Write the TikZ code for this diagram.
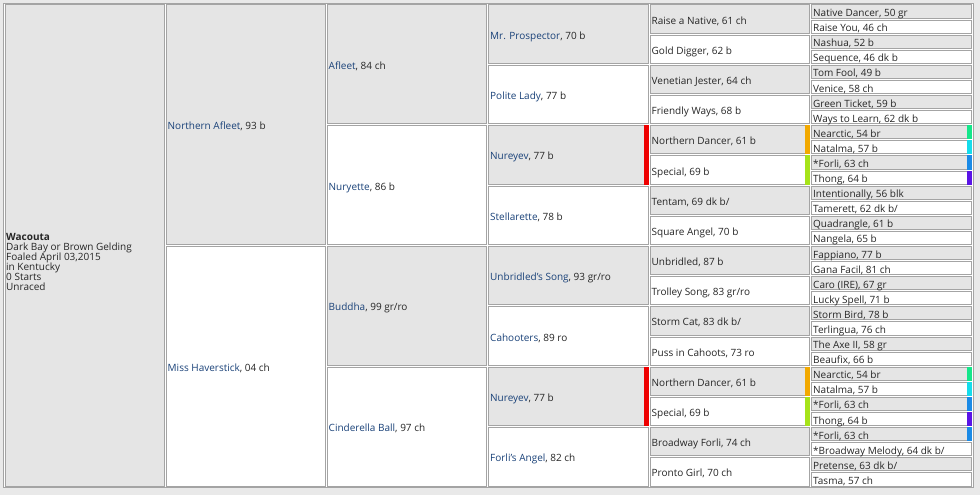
\documentclass[tikz,border=0pt]{standalone}
\usepackage{fontspec}
\setmainfont{Open Sans}
\definecolor{pagebg}{HTML}{E9E9E9}
\definecolor{cellgray}{HTML}{E5E5E5}
\definecolor{cellline}{HTML}{A4A4A4}
\definecolor{linkblue}{HTML}{1A4279}
\definecolor{txt}{HTML}{262626}
\definecolor{barred}{HTML}{EE0000}
\definecolor{barorange}{HTML}{F2A900}
\definecolor{barlime}{HTML}{A6E31A}
\definecolor{bargreen}{HTML}{14E68A}
\definecolor{barcyan}{HTML}{14DCEB}
\definecolor{barblue}{HTML}{1A8AE6}
\definecolor{barviolet}{HTML}{5A14E6}
\newcommand\lk[1]{\textcolor{linkblue}{#1}}
\newcommand\pcell[7]{%
  \pgfmathsetmacro\pya{4+#4*15.09375+1}%
  \pgfmathsetmacro\pyb{4+(#4+#5)*15.09375-1}%
  \pgfmathsetmacro\pym{(\pya+\pyb)/2+5.0}%
  \draw[cellbox,fill=#6] (#2+1,\pya) rectangle (#3-1,\pyb);
  \node[celltext] (#1) at (#2+2.5,\pym) {#7};
}
\newcommand\pbar[4]{%
  \pgfmathsetmacro\pya{4+#2*15.09375+0.5}%
  \pgfmathsetmacro\pyb{4+(#2+#3)*15.09375-0.5}%
  \fill[#4] (#1-5.5,\pya) rectangle (#1-0.5,\pyb);
}
\begin{document}
\begin{tikzpicture}[x=1pt,y=-1pt,
  cellbox/.style={draw=cellline,line width=1pt},
  celltext/.style={anchor=base west,inner sep=0pt,text=txt,font=\fontsize{10}{10}\selectfont}]
\useasboundingbox (0,0) rectangle (980,495);
\fill[pagebg] (0,0) rectangle (980,495);
\filldraw[fill=white,draw=cellline,line width=1pt] (3,3.5) rectangle (973.2,487.5);
% generation 0
\pcell{wac}{4}{165}{0}{32}{cellgray}{}
\node[celltext] (wacouta) at (6,240) {\parbox[t]{155pt}{\fontsize{10}{10}\selectfont\raggedright
  \textbf{Wacouta}\\Dark Bay or Brown Gelding\\Foaled April 03,2015\\in Kentucky\\0 Starts\\Unraced}};
% generation 1
\pcell{s}{165}{326}{0}{16}{cellgray}{\lk{Northern Afleet}, 93 b}
\pcell{d}{165}{326}{16}{16}{white}{\lk{Miss Haverstick}, 04 ch}
% generation 2
\pcell{ss}{326}{487.5}{0}{8}{cellgray}{\lk{Afleet}, 84 ch}
\pcell{sd}{326}{487.5}{8}{8}{white}{\lk{Nuryette}, 86 b}
\pcell{ds}{326}{487.5}{16}{8}{cellgray}{\lk{Buddha}, 99 gr/ro}
\pcell{dd}{326}{487.5}{24}{8}{white}{\lk{Cinderella Ball}, 97 ch}
% generation 3
\pcell{sss}{487.5}{649}{0}{4}{cellgray}{\lk{Mr. Prospector}, 70 b}
\pcell{ssd}{487.5}{649}{4}{4}{white}{\lk{Polite Lady}, 77 b}
\pcell{sds}{487.5}{649}{8}{4}{cellgray}{\lk{Nureyev}, 77 b}
\pcell{sdd}{487.5}{649}{12}{4}{white}{\lk{Stellarette}, 78 b}
\pcell{dss}{487.5}{649}{16}{4}{cellgray}{\lk{Unbridled's Song}, 93 gr/ro}
\pcell{dsd}{487.5}{649}{20}{4}{white}{\lk{Cahooters}, 89 ro}
\pcell{dds}{487.5}{649}{24}{4}{cellgray}{\lk{Nureyev}, 77 b}
\pcell{ddd}{487.5}{649}{28}{4}{white}{\lk{Forli's Angel}, 82 ch}
% generation 4
\pcell{g4a}{649}{810.5}{0}{2}{cellgray}{Raise a Native, 61 ch}
\pcell{g4b}{649}{810.5}{2}{2}{white}{Gold Digger, 62 b}
\pcell{g4c}{649}{810.5}{4}{2}{cellgray}{Venetian Jester, 64 ch}
\pcell{g4d}{649}{810.5}{6}{2}{white}{Friendly Ways, 68 b}
\pcell{g4e}{649}{810.5}{8}{2}{cellgray}{Northern Dancer, 61 b}
\pcell{g4f}{649}{810.5}{10}{2}{white}{Special, 69 b}
\pcell{g4g}{649}{810.5}{12}{2}{cellgray}{Tentam, 69 dk b/}
\pcell{g4h}{649}{810.5}{14}{2}{white}{Square Angel, 70 b}
\pcell{g4i}{649}{810.5}{16}{2}{cellgray}{Unbridled, 87 b}
\pcell{g4j}{649}{810.5}{18}{2}{white}{Trolley Song, 83 gr/ro}
\pcell{g4k}{649}{810.5}{20}{2}{cellgray}{Storm Cat, 83 dk b/}
\pcell{g4l}{649}{810.5}{22}{2}{white}{Puss in Cahoots, 73 ro}
\pcell{g4m}{649}{810.5}{24}{2}{cellgray}{Northern Dancer, 61 b}
\pcell{g4n}{649}{810.5}{26}{2}{white}{Special, 69 b}
\pcell{g4o}{649}{810.5}{28}{2}{cellgray}{Broadway Forli, 74 ch}
\pcell{g4p}{649}{810.5}{30}{2}{white}{Pronto Girl, 70 ch}
% generation 5
\pcell{g5a}{810.5}{972.5}{0}{1}{cellgray}{Native Dancer, 50 gr}
\pcell{g5b}{810.5}{972.5}{1}{1}{white}{Raise You, 46 ch}
\pcell{g5c}{810.5}{972.5}{2}{1}{cellgray}{Nashua, 52 b}
\pcell{g5d}{810.5}{972.5}{3}{1}{white}{Sequence, 46 dk b}
\pcell{g5e}{810.5}{972.5}{4}{1}{cellgray}{Tom Fool, 49 b}
\pcell{g5f}{810.5}{972.5}{5}{1}{white}{Venice, 58 ch}
\pcell{g5g}{810.5}{972.5}{6}{1}{cellgray}{Green Ticket, 59 b}
\pcell{g5h}{810.5}{972.5}{7}{1}{white}{Ways to Learn, 62 dk b}
\pcell{g5i}{810.5}{972.5}{8}{1}{cellgray}{Nearctic, 54 br}
\pcell{g5j}{810.5}{972.5}{9}{1}{white}{Natalma, 57 b}
\pcell{g5k}{810.5}{972.5}{10}{1}{cellgray}{*Forli, 63 ch}
\pcell{g5l}{810.5}{972.5}{11}{1}{white}{Thong, 64 b}
\pcell{g5m}{810.5}{972.5}{12}{1}{cellgray}{Intentionally, 56 blk}
\pcell{g5n}{810.5}{972.5}{13}{1}{white}{Tamerett, 62 dk b/}
\pcell{g5o}{810.5}{972.5}{14}{1}{cellgray}{Quadrangle, 61 b}
\pcell{g5p}{810.5}{972.5}{15}{1}{white}{Nangela, 65 b}
\pcell{g5q}{810.5}{972.5}{16}{1}{cellgray}{Fappiano, 77 b}
\pcell{g5r}{810.5}{972.5}{17}{1}{white}{Gana Facil, 81 ch}
\pcell{g5s}{810.5}{972.5}{18}{1}{cellgray}{Caro (IRE), 67 gr}
\pcell{g5t}{810.5}{972.5}{19}{1}{white}{Lucky Spell, 71 b}
\pcell{g5u}{810.5}{972.5}{20}{1}{cellgray}{Storm Bird, 78 b}
\pcell{g5v}{810.5}{972.5}{21}{1}{white}{Terlingua, 76 ch}
\pcell{g5w}{810.5}{972.5}{22}{1}{cellgray}{The Axe II, 58 gr}
\pcell{g5x}{810.5}{972.5}{23}{1}{white}{Beaufix, 66 b}
\pcell{g5y}{810.5}{972.5}{24}{1}{cellgray}{Nearctic, 54 br}
\pcell{g5z}{810.5}{972.5}{25}{1}{white}{Natalma, 57 b}
\pcell{g5A}{810.5}{972.5}{26}{1}{cellgray}{*Forli, 63 ch}
\pcell{g5B}{810.5}{972.5}{27}{1}{white}{Thong, 64 b}
\pcell{g5C}{810.5}{972.5}{28}{1}{cellgray}{*Forli, 63 ch}
\pcell{g5D}{810.5}{972.5}{29}{1}{white}{*Broadway Melody, 64 dk b/}
\pcell{g5E}{810.5}{972.5}{30}{1}{cellgray}{Pretense, 63 dk b/}
\pcell{g5F}{810.5}{972.5}{31}{1}{white}{Tasma, 57 ch}
% colour markers
\pbar{649}{8}{4}{barred}
\pbar{649}{24}{4}{barred}
\pbar{810.5}{8}{2}{barorange}
\pbar{810.5}{10}{2}{barlime}
\pbar{810.5}{24}{2}{barorange}
\pbar{810.5}{26}{2}{barlime}
\pbar{972.5}{8}{1}{bargreen}
\pbar{972.5}{9}{1}{barcyan}
\pbar{972.5}{10}{1}{barblue}
\pbar{972.5}{11}{1}{barviolet}
\pbar{972.5}{24}{1}{bargreen}
\pbar{972.5}{25}{1}{barcyan}
\pbar{972.5}{26}{1}{barblue}
\pbar{972.5}{27}{1}{barviolet}
\pbar{972.5}{28}{1}{barblue}
\end{tikzpicture}
\end{document}
